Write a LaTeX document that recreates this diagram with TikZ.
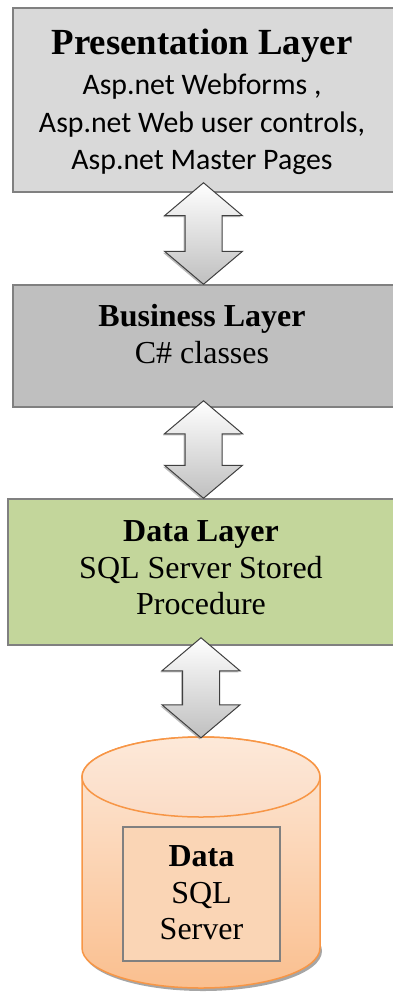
\documentclass[tikz,border=0pt]{standalone}
\usepackage{fontspec}
\setmainfont{Liberation Serif}
\newfontfamily\calibri{Carlito}
\usetikzlibrary{calc,shadows}
\definecolor{presgray}{HTML}{D9D9D9}
\definecolor{busgray}{HTML}{BFBFBF}
\definecolor{datagreen}{HTML}{C3D69B}
\definecolor{dborange}{HTML}{F79646}
\definecolor{dblight}{HTML}{FDE9D9}
\definecolor{dbmid}{HTML}{FBDCC6}
\definecolor{dbdark}{HTML}{FABF8F}
\definecolor{dbinner}{HTML}{FAD5B5}
\tikzset{
  layer/.style={draw=black!50, line width=1.5pt, inner sep=0pt},
  tiertext/.style={align=center, inner sep=0pt, font=\fontsize{32}{36.5}\selectfont},
  blockarrow/.style={draw=black!75, line width=1pt, top color=white, bottom color=black!25,
    drop shadow={shadow xshift=-1.5pt, shadow yshift=-1.5pt, fill=black!45, opacity=0.6}},
}
% block arrow between two layers, #3 = how far the upper tip reaches into #1
\newcommand\tierarrow[3]{%
  \path[blockarrow] ($(#1.south)+(0,-#3)$) -- ++(39,33) -- ++(-20.5,0)
    -- ($(#1.south |- #2.north)+(18.5,-33)$) -- ++(20.5,0) -- (#1.south |- #2.north)
    -- ++(-39,-33) -- ++(20.5,0) -- ($(#1.south)+(-18.5,33-#3)$) -- ++(-20.5,0) -- cycle;
}
\begin{document}
\begin{tikzpicture}[x=1pt,y=-1pt]
\useasboundingbox (0,0) rectangle (392,992);
%
\node[layer, fill=presgray, minimum width=381pt, minimum height=184pt] (pres) at (203.5,100) {};
\node[layer, fill=busgray, minimum width=381pt, minimum height=122pt] (bus) at (203.5,346) {};
\node[layer, fill=datagreen, minimum width=386pt, minimum height=146pt] (data) at (201,572) {};
\node[minimum width=238pt, minimum height=250pt, inner sep=0pt] (db) at (201,863) {};
%
\node[tiertext, font=\fontsize{29.8}{37.5}\selectfont\calibri] (prestxt) at (202,102)
  {{\fontsize{36.8}{40}\selectfont\rmfamily\bfseries Presentation Layer}\\[3pt]
   Asp.net Webforms ,\\ Asp.net Web user controls,\\ Asp.net Master Pages};
\node[tiertext] (bustxt) at (202,334) {\textbf{Business Layer}\\ C\# classes};
\node[tiertext] (datatxt) at (201,568) {\textbf{Data Layer}\\ SQL Server Stored\\ Procedure};
%
\fill[black!35] (203,951) ellipse (119 and 40);
\path[draw=dborange, line width=1.5pt, top color=dblight, bottom color=dbdark]
  (82,777) -- (82,948) arc (180:0:119 and 40) -- (320,777) arc (0:-180:119 and 40) -- cycle;
\path[draw=dborange, line width=1.5pt, top color=dblight, bottom color=dbmid] (201,777) ellipse (119 and 40);
\node[layer, fill=dbinner, minimum width=157pt, minimum height=134pt] (dbbox) at (201.5,894) {};
\node[tiertext] (dbtxt) at (201.5,893) {\textbf{Data}\\ SQL\\ Server};
%
\tierarrow{pres}{bus}{10}
\tierarrow{bus}{data}{7}
\tierarrow{data}{db}{8}
\end{tikzpicture}
\end{document}
